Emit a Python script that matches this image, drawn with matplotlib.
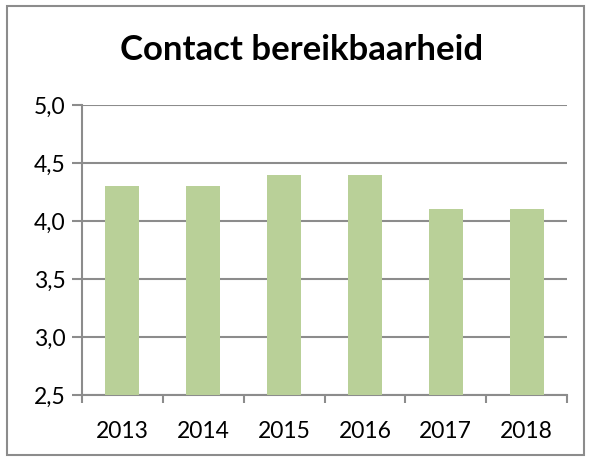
import matplotlib
matplotlib.use("Agg")
import matplotlib.pyplot as plt
from matplotlib.patches import Rectangle

years = ["2013", "2014", "2015", "2016", "2017", "2018"]
values = [4.3, 4.3, 4.4, 4.4, 4.1, 4.1]
yticks = [2.5, 3.0, 3.5, 4.0, 4.5, 5.0]
ytick_labels = ["2,5", "3,0", "3,5", "4,0", "4,5", "5,0"]
title = "Contact bereikbaarheid"

plt.rcParams['font.family'] = ['Lato', 'DejaVu Sans']

fig = plt.figure(figsize=(5.9, 4.59), dpi=100)
ax = fig.add_axes([82/590, 1-395/459, (567-82)/590, (395-105)/459])

grey = "#8c8c8c"
x = list(range(len(years)))
ax.bar(x, values, width=0.42, bottom=0, color="#b9d098", zorder=3)
ax.set_xlim(-0.5, len(years)-0.5)
ax.set_ylim(2.5, 5.0)
ax.set_yticks(yticks)
ax.set_yticklabels(ytick_labels, fontsize=16.5)
ax.set_xticks(x)
ax.set_xticklabels(years, fontsize=16.5)
ax.set_xticks([i - 0.5 for i in range(len(years)+1)], minor=True)
ax.tick_params(axis='x', which='major', length=0, pad=19)
ax.tick_params(axis='x', which='minor', length=6, color=grey, width=1.5)
ax.tick_params(axis='y', length=7, color=grey, width=1.5, pad=5)
ax.grid(axis='y', color=grey, linewidth=1.5, zorder=0)
for s in ['top', 'right']:
    ax.spines[s].set_visible(False)
for s in ['left', 'bottom']:
    ax.spines[s].set_color(grey)
    ax.spines[s].set_linewidth(1.5)

fig.text(302/590, 1-50/459, title, ha='center', va='center', fontsize=25, fontweight='bold')

fig.patches.append(Rectangle((7/590, 4/459), (584-7)/590, (453-4)/459, transform=fig.transFigure,
                             fill=False, edgecolor="#8c8c8c", linewidth=1.5))

fig.savefig("out.png", dpi=100)
